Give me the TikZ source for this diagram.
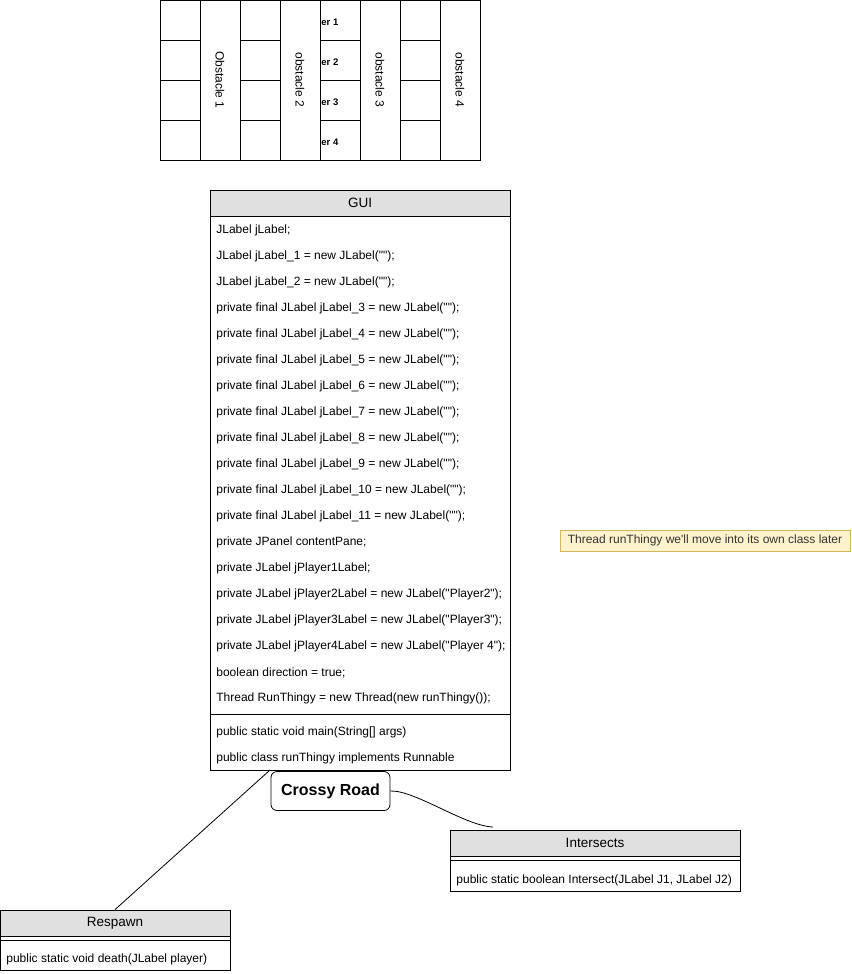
\documentclass[tikz,border=0pt]{standalone}
\usepackage{fontspec}
\setmainfont{Liberation Sans}[Ligatures=TeXOff]
\definecolor{headgray}{HTML}{E0E0E0}
\definecolor{notefill}{HTML}{FFF2CC}
\definecolor{notedraw}{HTML}{D6B656}
\definecolor{notetext}{HTML}{333333}
\begin{document}
\begin{tikzpicture}[
    x=1pt, y=-1pt, line width=0.8pt,
    every node/.style={font=\fontsize{12}{14}\selectfont, inner sep=0pt},
    cell/.style={rectangle, draw, minimum width=40pt, minimum height=40pt},
    obstacle/.style={rectangle, draw, minimum width=40pt, minimum height=160pt},
    playerlbl/.style={anchor=west, yshift=-1pt, font=\fontsize{9.5}{10}\selectfont\bfseries},
    classbox/.style={rectangle, draw, fill=white},
    classhead/.style={rectangle, draw, fill=headgray, minimum height=26pt,
                      font=\fontsize{13.5}{15}\selectfont},
    member/.style={anchor=west, yshift=-1.5pt},
    titlebox/.style={rectangle, draw, rounded corners=6pt, fill=white,
                     minimum width=119pt, minimum height=39pt,
                     font=\fontsize{16}{18}\selectfont\bfseries},
    note/.style={rectangle, draw=notedraw, fill=notefill, text=notetext,
                 minimum width=290pt, minimum height=21pt},
    link/.style={draw=black, line width=0.8pt},
]
\useasboundingbox (0,0) rectangle (851,974);
% lanes and obstacles
\foreach \c in {0,...,3}
  \foreach \r in {0,...,3}
    \node[cell] (cell\c\r) at ({180+80*\c},{20+40*\r}) {};
\foreach \lbl [count=\i] in {Obstacle 1, obstacle 2, obstacle 3, obstacle 4} {
  \node[obstacle] (obs\i) at ({140+80*\i},80) {};
  \node[rotate=-90] at (obs\i) {\lbl};
}
\foreach \i in {1,...,4}
  \node[playerlbl] (player\i) at (321,{21.5+40*(\i-1)}) {er \i};
% GUI class
\node[classbox, minimum width=300pt, minimum height=580pt] (gui) at (360,480) {};
\node[classhead, minimum width=300pt] (guihead) at (360,203) {GUI};
\foreach \txt [count=\i] in {
    {JLabel jLabel;},
    {JLabel jLabel\_1 = new JLabel("");},
    {JLabel jLabel\_2 = new JLabel("");},
    {private final JLabel jLabel\_3 = new JLabel("");},
    {private final JLabel jLabel\_4 = new JLabel("");},
    {private final JLabel jLabel\_5 = new JLabel("");},
    {private final JLabel jLabel\_6 = new JLabel("");},
    {private final JLabel jLabel\_7 = new JLabel("");},
    {private final JLabel jLabel\_8 = new JLabel("");},
    {private final JLabel jLabel\_9 = new JLabel("");},
    {private final JLabel jLabel\_10 = new JLabel("");},
    {private final JLabel jLabel\_11 = new JLabel("");},
    {private JPanel contentPane;},
    {private JLabel jPlayer1Label;},
    {private JLabel jPlayer2Label = new JLabel("Player2");},
    {private JLabel jPlayer3Label = new JLabel("Player3");},
    {private JLabel jPlayer4Label = new JLabel("Player 4");},
    {boolean direction = true;},
    {Thread RunThingy = new Thread(new runThingy());}}
  \node[member] (guiattr\i) at (216,{229+26*(\i-1)}) {\txt};
\draw (210,714) -- (510,714);
\node[member] (guimain) at (216,731) {public static void main(String[] args)};
\node[member] (guirun) at (216,757) {public class runThingy implements Runnable};
% note
\node[note] (note) at (705,540.5) {Thread runThingy we'll move into its own class later};
% title
\node[titlebox] (crossy) at (330.5,791) {Crossy Road};
% Intersects class
\node[classbox, minimum width=290pt, minimum height=61pt] (inter) at (595,860.5) {};
\node[classhead, minimum width=290pt] (interhead) at (595,843) {Intersects};
\draw (450,860) -- (740,860);
\node[member] (intermeth) at (456,879) {public static boolean Intersect(JLabel J1, JLabel J2)};
% Respawn class
\node[classbox, minimum width=230pt, minimum height=60pt] (respawn) at (115,940) {};
\node[classhead, minimum width=230pt] (respawnhead) at (115,923) {Respawn};
\draw (0,940) -- (230,940);
\node[member] (respawnmeth) at (6,958) {public static void death(JLabel player)};
% connectors
\coordinate (guifoot) at (270,770);
\coordinate (intertop) at (493,827);
\draw[link] (guifoot) -- (respawn.north);
\draw[link] (crossy.east) .. controls (415,790) and (465,826) .. (intertop);
\end{tikzpicture}
\end{document}
